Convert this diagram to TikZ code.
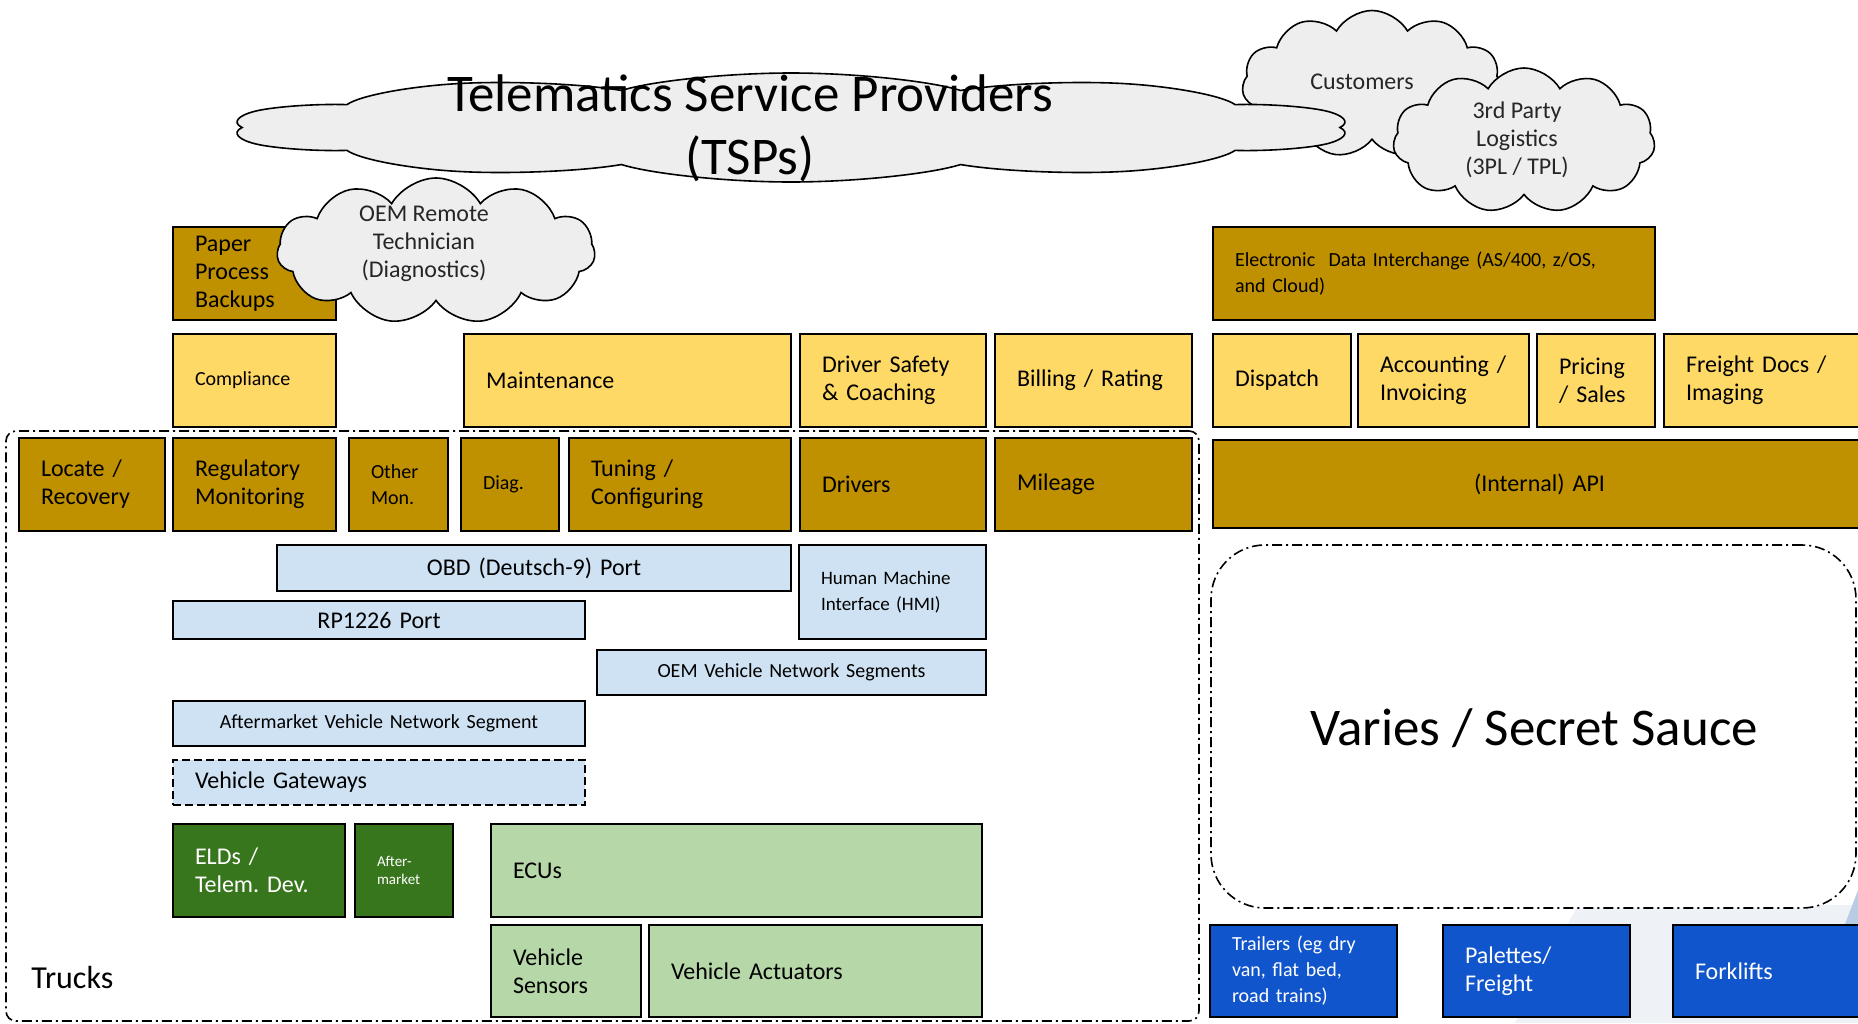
\documentclass[tikz,border=0pt]{standalone}
\usepackage{fontspec}
\setmainfont{Carlito}
\usetikzlibrary{shapes.symbols}
\frenchspacing
\definecolor{gold}{HTML}{BF9000}
\definecolor{lgold}{HTML}{FFD966}
\definecolor{lblue}{HTML}{CFE2F3}
\definecolor{dgreen}{HTML}{38761D}
\definecolor{lgreen}{HTML}{B6D7A8}
\definecolor{dblue}{HTML}{1155CC}
\definecolor{cloudgray}{HTML}{EEEEEE}
\definecolor{wmark}{HTML}{EEF2F7}
\definecolor{wblue}{HTML}{B9CCE6}
\tikzset{
  f12/.style={font=\fontsize{12}{14}\selectfont},
  f10/.style={font=\fontsize{10}{13}\selectfont},
  f95/.style={font=\fontsize{9.5}{13}\selectfont},
  f75/.style={font=\fontsize{7.5}{9}\selectfont},
  fbig/.style={font=\fontsize{26.5}{31.5}\selectfont},
  bxline/.style={draw=black, line width=0.9pt},
  goldbox/.style={bxline, fill=gold, f12},
  ygbox/.style={bxline, fill=lgold, f12},
  lbbox/.style={bxline, fill=lblue, f12},
  dgbox/.style={bxline, fill=dgreen, text=white, f12},
  lgbox/.style={bxline, fill=lgreen, f12},
  dbbox/.style={bxline, fill=dblue, text=white, f12},
  dashdotline/.style={draw=black, line width=0.8pt, dash pattern=on 5pt off 2pt on 1pt off 2pt},
  cloudbox/.style={cloud, draw=black, line width=0.8pt, fill=cloudgray, cloud puffs=11, cloud puff arc=120, cloud ignores aspect, inner sep=0pt},
  cloudtxt/.style={f12, align=center, text=black!85},
}
\newcommand{\bx}[8][left]{%
  \pgfmathsetmacro{\bw}{(#6-#4)*0.5-22}%
  \pgfmathsetmacro{\bh}{(#7-#5)*0.5}%
  \node[#3, anchor=north west, text width=\bw pt, minimum height=\bh pt,
        inner xsep=11pt, inner ysep=0pt, outer sep=0pt, align=#1] (#2) at (#4,#5) {#8};}
\begin{document}
\begin{tikzpicture}[x=0.5pt, y=-0.5pt]
\clip (0,0) rectangle (1858,1023);
\fill[white] (0,0) rectangle (1858,1023);
% faint slide background
\fill[wmark] (1578,905) -- (1858,905) -- (1858,1023) -- (1515,1023) -- cycle;
\fill[wblue] (1842,932) -- (1858,890) -- (1858,932) -- cycle;

% clouds
\node[cloudbox, minimum width=130pt, minimum height=73.5pt] (custc) at (1372,84) {};
\begin{scope}[shift={(791,127.5)}, xscale=5.61]
  \node[cloudbox, cloud puffs=10, minimum width=100pt, minimum height=54.5pt, transform shape] (tspc) at (0,0) {};
\end{scope}
\node[cloudbox, minimum width=131pt, minimum height=72.5pt] (tplc) at (1524,140.5) {};
\bx{paper}{goldbox}{173}{227}{336}{320}{Paper\\Process\\Backups}
\node[cloudbox, minimum width=159pt, minimum height=73pt] (oemc) at (436,251) {};

\node[fbig, align=center] (tsp) at (750,128) {Telematics Service Providers\\(TSPs)};
\node[cloudtxt] (cust) at (1362,82) {Customers};
\node[cloudtxt] (tpl) at (1517,140) {3rd Party\\Logistics\\(3PL / TPL)};
\node[cloudtxt] (oem) at (424,244) {OEM Remote\\Technician\\(Diagnostics)};

% EDI
\bx{edi}{goldbox,f10}{1213}{227}{1655}{320}{Electronic\ \ Data Interchange (AS/400, z/OS,\\and Cloud)}

% application row
\bx{compl}{ygbox,f10}{173}{334}{336}{427}{Compliance}
\bx{maint}{ygbox}{464}{334}{791}{427}{Maintenance}
\bx{dsafe}{ygbox}{800}{334}{986}{427}{Driver Safety\\\& Coaching}
\bx{bill}{ygbox}{995}{334}{1192}{427}{Billing / Rating}
\bx{disp}{ygbox}{1213}{334}{1351}{427}{Dispatch}
\bx{acct}{ygbox}{1358}{334}{1529}{427}{Accounting /\\Invoicing}
\bx{price}{ygbox}{1537}{334}{1655}{427}{Pricing\\/ Sales}
\bx{freight}{ygbox}{1664}{334}{1866}{427}{Freight Docs /\\Imaging}

% data row
\bx{locate}{goldbox}{19}{438}{165}{531}{Locate /\\Recovery}
\bx{regmon}{goldbox}{173}{438}{336}{531}{Regulatory\\Monitoring}
\bx{othmon}{goldbox,f10}{349}{438}{448}{531}{Other\\Mon.}
\bx{diag}{goldbox,f10}{461}{438}{559}{531}{Diag.}
\bx{tune}{goldbox}{569}{438}{791}{531}{Tuning /\\Configuring}
\bx{drivers}{goldbox}{800}{438}{986}{531}{Drivers}
\bx{mileage}{goldbox}{995}{438}{1192}{531}{Mileage}
\bx[center]{api}{goldbox}{1213}{440}{1866}{528}{(Internal) API}

% ports and networks
\bx[center]{obd}{lbbox}{277}{545}{791}{591}{OBD (Deutsch-9) Port}
\bx{hmi}{lbbox,f95}{799}{545}{986}{639}{Human Machine\\Interface (HMI)}
\bx[center]{rp}{lbbox}{173}{601}{585}{639}{RP1226 Port}
\bx[center]{oemvns}{lbbox,f10}{597}{650}{986}{695}{OEM Vehicle Network Segments}
\bx[center]{avns}{lbbox,f10}{173}{701}{585}{746}{Aftermarket Vehicle Network Segment}
\bx{vgw}{lbbox,dash pattern=on 4pt off 2pt}{173}{760}{585}{805}{Vehicle Gateways}

% devices
\bx{eld}{dgbox}{173}{824}{345}{917}{ELDs /\\Telem. Dev.}
\bx{afm}{dgbox,f75}{355}{824}{453}{917}{After-\\market}
\bx{ecu}{lgbox}{491}{824}{982}{917}{ECUs}
\bx{sens}{lgbox}{491}{925}{641}{1017}{Vehicle\\Sensors}
\bx{act}{lgbox}{649}{925}{982}{1017}{Vehicle Actuators}

% assets
\bx{trail}{dbbox,f10}{1210}{925}{1397}{1017}{Trailers (eg dry\\van, flat bed,\\road trains)}
\bx{pal}{dbbox}{1443}{925}{1630}{1017}{Palettes/\\Freight}
\bx{fork}{dbbox}{1673}{925}{1866}{1017}{Forklifts}

% regions
\node[dashdotline, rounded corners=5pt, anchor=north west, minimum width=596.5pt, minimum height=295pt, inner sep=0pt, outer sep=0pt] (trucks) at (6,431) {};
\node[font=\fontsize{16}{19}\selectfont, anchor=west, inner sep=0pt] (truckslbl) at (31,977) {Trucks};
\node[dashdotline, fill=white, rounded corners=27pt, anchor=north west, minimum width=322.5pt, minimum height=181.5pt, inner sep=0pt, outer sep=0pt] (varies) at (1211,545) {};
\node[fbig] (varieslbl) at (1534,728) {Varies / Secret Sauce};
\end{tikzpicture}
\end{document}
